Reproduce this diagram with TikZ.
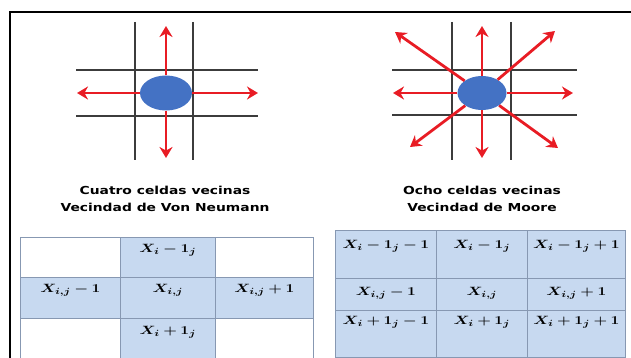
\documentclass[tikz,border=0pt]{standalone}
\usepackage[no-math]{fontspec}
\setmainfont{DejaVu Sans}
\usepackage{amsmath}
\usepackage{bm}
\usetikzlibrary{shapes.geometric, positioning, arrows.meta}
\definecolor{GridGray}{RGB}{60,60,60}
\definecolor{ArrRed}{RGB}{232,28,36}
\definecolor{CellBlue}{RGB}{68,114,196}
\definecolor{TabBlue}{RGB}{199,217,240}
\definecolor{TabLine}{RGB}{135,152,178}

\begin{document}
\begin{tikzpicture}[x=1pt, y=-1pt,
          gridln/.style={draw=GridGray, line width=2.6pt},
          arr/.style={-{Stealth[length=11pt, width=13pt]}, draw=ArrRed, line width=2.8pt},
          cellc/.style={ellipse, fill=CellBlue, inner sep=0pt,
                        minimum width=50pt, minimum height=34pt},
          ttl/.style={font=\fontsize{11}{17}\selectfont\bfseries, align=center},
          tcell/.style={rectangle, draw=TabLine, line width=0.8pt,
                        anchor=north west, inner sep=0pt},
          tval/.style={font=\fontsize{13}{15}\selectfont, inner sep=0pt}
        ]
        \useasboundingbox (0,0) rectangle (631,358);
        \draw[line width=1.4pt] (10,358) -- (10,12) -- (631,12);

        % Von Neumann
        \draw[gridln] (135,22) -- (135,160);
        \draw[gridln] (193,22) -- (193,160);
        \draw[gridln] (76,70)  -- (258,70);
        \draw[gridln] (76,116) -- (258,116);
        \node[cellc, minimum width=52pt, minimum height=35pt] (vnc) at (166,93) {};
        \coordinate (vnN) at (166,26);
        \coordinate (vnS) at (166,158);
        \coordinate (vnW) at (77,93);
        \coordinate (vnE) at (258,93);
        \draw[arr] (vnc) -- (vnN);
        \draw[arr] (vnc) -- (vnS);
        \draw[arr] (vnc) -- (vnW);
        \draw[arr] (vnc) -- (vnE);

        % Moore
        \draw[gridln] (452,22) -- (452,160);
        \draw[gridln] (511,22) -- (511,160);
        \draw[gridln] (392,70)  -- (577,70);
        \draw[gridln] (392,115) -- (577,115);
        \node[cellc, minimum width=49pt, minimum height=34pt] (moc) at (482,93) {};
        \coordinate (moN)  at (482,26);
        \coordinate (moS)  at (482,158);
        \coordinate (moW)  at (393,93);
        \coordinate (moE)  at (573,93);
        \coordinate (moNW) at (395,32);
        \coordinate (moNE) at (555,31);
        \coordinate (moSW) at (410,147);
        \coordinate (moSE) at (558,148);
        \draw[arr] (moc) -- (moN);
        \draw[arr] (moc) -- (moS);
        \draw[arr] (moc) -- (moW);
        \draw[arr] (moc) -- (moE);
        \draw[arr] (moc) -- (moNW);
        \draw[arr] (moc) -- (moNE);
        \draw[arr] (moc) -- (moSW);
        \draw[arr] (moc) -- (moSE);

        \node[ttl] (vnt) at (165,199)
              {\scalebox{1.26}[1]{Cuatro celdas vecinas}\\
               \scalebox{1.26}[1]{Vecindad de Von Neumann}};
        \node[ttl] (mot) at (482,199)
              {\scalebox{1.26}[1]{Ocho celdas vecinas}\\
               \scalebox{1.26}[1]{Vecindad de Moore}};

        % Von Neumann table
        \node[tcell, minimum width=100pt, minimum height=40pt] (vn11) at (20,237) {};
        \node[tcell, fill=TabBlue, minimum width=95pt, minimum height=40pt] (vn12) at (120,237) {};
        \node[tcell, minimum width=98pt, minimum height=40pt] (vn13) at (215,237) {};
        \node[tcell, fill=TabBlue, minimum width=100pt, minimum height=41pt] (vn21) at (20,277) {};
        \node[tcell, fill=TabBlue, minimum width=95pt, minimum height=41pt] (vn22) at (120,277) {};
        \node[tcell, fill=TabBlue, minimum width=98pt, minimum height=41pt] (vn23) at (215,277) {};
        \node[tcell, minimum width=100pt, minimum height=46pt] (vn31) at (20,318) {};
        \node[tcell, fill=TabBlue, minimum width=95pt, minimum height=46pt] (vn32) at (120,318) {};
        \node[tcell, minimum width=98pt, minimum height=46pt] (vn33) at (215,318) {};

        \node[tval] (vn12t) at ([yshift=-13pt]vn12.north) {\scalebox{1.3}[1]{$\bm{X_i - 1_j}$}};
        \node[tval] (vn21t) at ([yshift=-13pt]vn21.north) {\scalebox{1.3}[1]{$\bm{X_{i,j} - 1}$}};
        \node[tval] (vn22t) at ([yshift=-13pt]vn22.north) {\scalebox{1.3}[1]{$\bm{X_{i,j}}$}};
        \node[tval] (vn23t) at ([yshift=-13pt]vn23.north) {\scalebox{1.3}[1]{$\bm{X_{i,j} + 1}$}};
        \node[tval] (vn32t) at ([yshift=-14pt]vn32.north) {\scalebox{1.3}[1]{$\bm{X_i + 1_j}$}};

        % Moore table
        \node[tcell, fill=TabBlue, minimum width=101pt, minimum height=48pt] (mo11) at (335,230) {};
        \node[tcell, fill=TabBlue, minimum width=91pt, minimum height=48pt] (mo12) at (436,230) {};
        \node[tcell, fill=TabBlue, minimum width=98pt, minimum height=48pt] (mo13) at (527,230) {};
        \node[tcell, fill=TabBlue, minimum width=101pt, minimum height=32pt] (mo21) at (335,278) {};
        \node[tcell, fill=TabBlue, minimum width=91pt, minimum height=32pt] (mo22) at (436,278) {};
        \node[tcell, fill=TabBlue, minimum width=98pt, minimum height=32pt] (mo23) at (527,278) {};
        \node[tcell, fill=TabBlue, minimum width=101pt, minimum height=47pt] (mo31) at (335,310) {};
        \node[tcell, fill=TabBlue, minimum width=91pt, minimum height=47pt] (mo32) at (436,310) {};
        \node[tcell, fill=TabBlue, minimum width=98pt, minimum height=47pt] (mo33) at (527,310) {};

        \node[tval] (mo11t) at ([yshift=-16pt]mo11.north) {\scalebox{1.3}[1]{$\bm{X_i - 1_j - 1}$}};
        \node[tval] (mo12t) at ([yshift=-16pt]mo12.north) {\scalebox{1.3}[1]{$\bm{X_i - 1_j}$}};
        \node[tval] (mo13t) at ([yshift=-16pt]mo13.north) {\scalebox{1.3}[1]{$\bm{X_i - 1_j + 1}$}};
        \node[tval] (mo21t) at ([yshift=-15pt]mo21.north) {\scalebox{1.3}[1]{$\bm{X_{i,j} - 1}$}};
        \node[tval] (mo22t) at ([yshift=-15pt]mo22.north) {\scalebox{1.3}[1]{$\bm{X_{i,j}}$}};
        \node[tval] (mo23t) at ([yshift=-15pt]mo23.north) {\scalebox{1.3}[1]{$\bm{X_{i,j} + 1}$}};
        \node[tval] (mo31t) at ([yshift=-12pt]mo31.north) {\scalebox{1.3}[1]{$\bm{X_i + 1_j - 1}$}};
        \node[tval] (mo32t) at ([yshift=-12pt]mo32.north) {\scalebox{1.3}[1]{$\bm{X_i + 1_j}$}};
        \node[tval] (mo33t) at ([yshift=-12pt]mo33.north) {\scalebox{1.3}[1]{$\bm{X_i + 1_j + 1}$}};
      \end{tikzpicture}
\end{document}
